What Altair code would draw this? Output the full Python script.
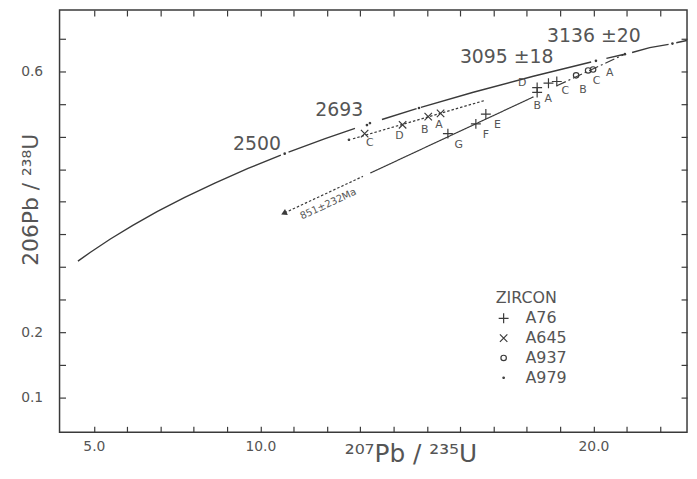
import altair as alt
import pandas as pd

# ---------------- data ----------------
# concordia curve, drawn in unbroken pieces (gaps at the age marks)
conc_x = [4.522, 4.887, 5.496, 6.169, 6.911, 7.729, 8.633, 9.629, 10.615,
          10.846, 11.944, 12.84,
          13.65, 14.69,
          14.82, 16.393, 18.193, 19.931,
          20.389, 20.900,
          21.161, 21.691, 22.257,
          22.487, 22.836]
conc_y = [0.3088, 0.3221, 0.3428, 0.3638, 0.3851, 0.4068, 0.4287, 0.4511, 0.4715,
          0.4761, 0.4968, 0.5127,
          0.5263, 0.5429,
          0.5449, 0.5681, 0.5926, 0.6145,
          0.6200, 0.6261,
          0.6291, 0.6365, 0.6415,
          0.6441, 0.6479]
conc_seg = [1] * 9 + [2] * 3 + [3] * 2 + [4] * 4 + [5] * 2 + [6] * 3 + [7] * 2

# age marks on the concordia
mark_x = [10.730, 14.762, 20.075, 20.944, 22.372]
mark_y = [0.4738, 0.5440, 0.6163, 0.6266, 0.6428]

# age labels
age_text = ["2500", "2693", "3095 ±18", "3136 ±20"]
age_x = [9.896, 12.366, 17.396, 20.015]
age_y = [0.4892, 0.5401, 0.6225, 0.6539]

# discordia lines
disc_x = [10.73, 13.08, 13.3, 18.2, 18.9, 20.944, 12.78, 16.71]
disc_y = [0.383, 0.439, 0.444, 0.561, 0.578, 0.6266, 0.4967, 0.5551]
disc_seg = ["a1", "a1", "a2", "a2", "a3", "a3", "b1", "b1"]
disc_style = ["dotted", "dotted", "solid", "solid", "dashdot", "dashdot", "dotted", "dotted"]

# lower intercept arrow and its label
arrow_x = [10.73]
arrow_y = [0.383]
lower_text = ["851±232Ma"]
lower_x = [12.04]
lower_y = [0.3964]

# zircon analyses
pt_series = ["A76"] * 7 + ["A645"] * 4 + ["A937"] * 3 + ["A979"] * 3
pt_x = [18.31, 18.31, 18.65, 18.90, 16.77, 16.47, 15.63,
        13.13, 14.27, 15.04, 15.41,
        19.48, 19.84, 19.99,
        12.66, 13.20, 13.29]
pt_y = [0.5753, 0.5678, 0.582, 0.5846, 0.5346, 0.5196, 0.5046,
        0.5046, 0.5181, 0.5307, 0.5356,
        0.594, 0.6015, 0.603,
        0.4952, 0.5177, 0.5207]

# fraction letters
lab_text = ["G", "F", "E", "D", "B", "A", "C",
            "C", "D", "B", "A",
            "B", "C", "A"]
lab_x = [15.958, 16.771, 17.119, 17.863, 18.31, 18.646, 19.152,
         13.289, 14.173, 14.935, 15.363,
         19.688, 20.095, 20.49]
lab_y = [0.4873, 0.5031, 0.5172, 0.582, 0.5476, 0.557, 0.5696,
         0.4897, 0.5012, 0.5097, 0.5181,
         0.572, 0.5846, 0.597]

series_names = ["A76", "A645", "A937", "A979"]
x_ticks = list(range(5, 23))
y_ticks = [0.1, 0.15, 0.2, 0.25, 0.3, 0.35, 0.4, 0.45, 0.5, 0.55, 0.6, 0.65]

# ---------------- styling ----------------
FONT = "DejaVu Sans"
TXT = "#555555"
INK = "#3a3a3a"

xs = alt.Scale(domain=[3.97, 22.81], nice=False, zero=False)
ys = alt.Scale(domain=[0.0461, 0.6943], nice=False, zero=False)

symbol_paths = [
    "M-1,0L1,0M0,-1L0,1",
    "M-0.75,-0.75L0.75,0.75M0.75,-0.75L-0.75,0.75",
    "M0.55,0A0.55,0.55 0 1,1 -0.55,0A0.55,0.55 0 1,1 0.55,0",
    "M0.15,0A0.15,0.15 0 1,1 -0.15,0A0.15,0.15 0 1,1 0.15,0",
]

conc_df = pd.DataFrame({"x": conc_x, "y": conc_y, "seg": conc_seg})
mark_df = pd.DataFrame({"x": mark_x, "y": mark_y})
age_df = pd.DataFrame({"x": age_x, "y": age_y, "t": age_text})
disc_df = pd.DataFrame({"x": disc_x, "y": disc_y, "seg": disc_seg, "style": disc_style})
arrow_df = pd.DataFrame({"x": arrow_x, "y": arrow_y})
lower_df = pd.DataFrame({"x": lower_x, "y": lower_y, "t": lower_text})
pt_df = pd.DataFrame({"x": pt_x, "y": pt_y, "series": pt_series})
lab_df = pd.DataFrame({"x": lab_x, "y": lab_y, "t": lab_text})


def X(axis=None):
    if axis is None:
        return alt.X("x:Q", scale=xs, axis=None)
    return alt.X("x:Q", scale=xs, axis=axis)


def Y(axis=None):
    if axis is None:
        return alt.Y("y:Q", scale=ys, axis=None)
    return alt.Y("y:Q", scale=ys, axis=axis)


bottom_axis = alt.Axis(
    orient="bottom", offset=-6, tickSize=6, values=x_ticks, domain=False, grid=False,
    tickColor=INK, tickWidth=1.2, labelOverlap=False, labelFlush=False,
    labelExpr="(datum.value==5||datum.value==10||datum.value==20) ? format(datum.value,'.1f') : ''",
    labelFontSize=14, labelColor=TXT, labelPadding=7, labelFont=FONT,
    title="²⁰⁷Pb / ²³⁵U", titleFontSize=25, titleFontWeight="normal", titleColor=TXT,
    titleFont=FONT, titleX=354, titleY=35, titleBaseline="alphabetic", titleAlign="center",
)
left_axis = alt.Axis(
    orient="left", offset=-6, tickSize=6, values=y_ticks, domain=False, grid=False,
    tickColor=INK, tickWidth=1.2, labelOverlap=False, labelFlush=False,
    labelExpr="(abs(datum.value-0.6)<0.001||abs(datum.value-0.2)<0.001||abs(datum.value-0.1)<0.001) ? format(datum.value,'.1f') : ''",
    labelFontSize=14, labelColor=TXT, labelPadding=17, labelFont=FONT,
    title="206Pb / ²³⁸U", titleFontSize=22, titleFontWeight="normal", titleColor=TXT,
    titleFont=FONT, titleX=-35, titleY=191, titleAngle=270, titleBaseline="middle",
    titleAlign="center",
)
top_axis = alt.Axis(
    orient="top", offset=-6, tickSize=6, values=x_ticks, domain=False, grid=False,
    tickColor=INK, tickWidth=1.2, labels=False, title="",
)
right_axis = alt.Axis(
    orient="right", offset=-6, tickSize=6, values=y_ticks, domain=False, grid=False,
    tickColor=INK, tickWidth=1.2, labels=False, title="",
)

# ---------------- layers ----------------
concordia = alt.Chart(conc_df).mark_line(color=INK, strokeWidth=1.4, clip=True).encode(
    x=X(bottom_axis), y=Y(left_axis), detail="seg:N"
)
mirror = alt.Chart(conc_df).mark_point(opacity=0).encode(
    x=X(top_axis), y=Y(right_axis)
)
age_marks = alt.Chart(mark_df).mark_circle(size=7, color=INK, opacity=1).encode(x=X(), y=Y())
age_labels = alt.Chart(age_df).mark_text(font=FONT, fontSize=19, color=TXT).encode(
    x=X(), y=Y(), text="t:N"
)
discordia = alt.Chart(disc_df).mark_line(color=INK, strokeWidth=1.2).encode(
    x=X(), y=Y(), detail="seg:N",
    strokeDash=alt.StrokeDash(
        "style:N",
        scale=alt.Scale(domain=["dotted", "solid", "dashdot"],
                        range=[[2.5, 2], [1, 0], [10, 3, 2, 3]]),
        legend=None,
    ),
)
arrow = alt.Chart(arrow_df).mark_point(
    shape="triangle", angle=245, filled=True, size=45, color=INK, opacity=1
).encode(x=X(), y=Y())
lower_label = alt.Chart(lower_df).mark_text(
    font=FONT, fontSize=10, color=TXT, angle=335
).encode(x=X(), y=Y(), text="t:N")
points = alt.Chart(pt_df).mark_point(
    filled=False, size=100, strokeWidth=1.2, color=INK, opacity=1
).encode(
    x=X(), y=Y(),
    shape=alt.Shape(
        "series:N",
        scale=alt.Scale(domain=series_names, range=symbol_paths),
        sort=series_names,
        legend=alt.Legend(
            orient="none", legendX=440, legendY=283, title="ZIRCON",
            titleFontSize=16, titleFontWeight="normal", titleColor=TXT, titleFont=FONT,
            titlePadding=4, labelFontSize=16, labelColor=TXT, labelFont=FONT,
            labelOffset=14, rowPadding=4, symbolSize=100, symbolStrokeColor=INK,
            symbolStrokeWidth=1.2, padding=0,
        ),
    ),
)
letters = alt.Chart(lab_df).mark_text(font=FONT, fontSize=11, color=TXT).encode(
    x=X(), y=Y(), text="t:N"
)

chart = alt.layer(
    concordia, mirror, discordia, age_marks, arrow, points, letters, age_labels, lower_label
).resolve_axis(
    x="independent", y="independent"
).properties(
    width=633, height=426,
    autosize=alt.AutoSizeParams(type="none"),
    padding={"left": 52, "top": 0, "right": 2, "bottom": 37},
    background="white",
).configure_view(
    stroke=INK, strokeWidth=1.5
)

chart.save("out.html", embed_options={"renderer": "svg", "actions": False})
